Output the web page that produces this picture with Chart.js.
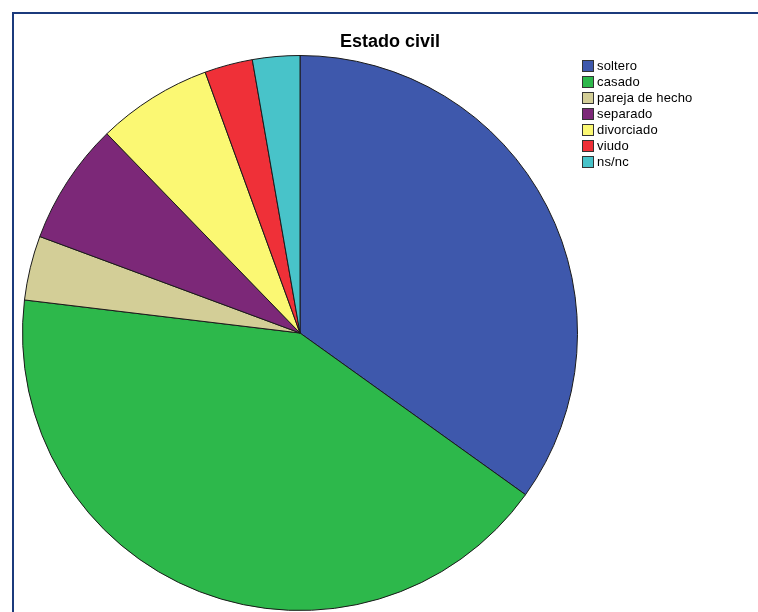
<!DOCTYPE html>
<html>
<head>
<meta charset="utf-8">
<script src="https://cdn.jsdelivr.net/npm/chart.js@4.4.1/dist/chart.umd.min.js"></script>
<style>
    html, body { margin: 0; padding: 0; background: #fff; }
    body { width: 758px; height: 612px; position: relative; overflow: hidden; font-family: "Liberation Sans", Arial, sans-serif; }
    #frame { position: absolute; left: 12px; top: 12px; width: 760px; height: 620px; border-top: 2px solid #1b3a7c; border-left: 2px solid #1b3a7c; }
    #chart-wrap { position: absolute; left: 0; top: 0; width: 758px; height: 612px; }
    #title { position: absolute; left: 290px; width: 200px; top: 31px; text-align: center; font-weight: bold; font-size: 18px; color: #000; }
    #legend { position: absolute; left: 582px; top: 58px; font-size: 13px; letter-spacing: 0.15px; color: #000; }
    #legend div { height: 16px; line-height: 16px; display: flex; align-items: center; }
    #legend span.box { display: inline-block; width: 10px; height: 10px; border: 1px solid #333; margin-right: 3px; }
</style>
</head>
<body>
<div id="frame"></div>
<div id="chart-wrap"><canvas id="pie"></canvas></div>
<div id="title">Estado civil</div>
<div id="legend"></div>
<script>
const categories = ["soltero", "casado", "pareja de hecho", "separado", "divorciado", "viudo", "ns/nc"];
const percentages = [34.9, 42.0, 3.75, 7.1, 6.7, 2.8, 2.75];
const sliceColors = ["#3e58ac", "#2db84b", "#d3ce97", "#7c2878", "#fbf873", "#ef3038", "#48c3c9"];

document.addEventListener("DOMContentLoaded", () => {
    const legend = document.getElementById("legend");
    legend.innerHTML = categories.map((c, i) =>
        `<div><span class="box" style="background:${sliceColors[i]}"></span>${c}</div>`).join("");

    const ctx = document.getElementById("pie").getContext("2d");
    new Chart(ctx, {
        type: "pie",
        data: {
            labels: categories,
            datasets: [{
                data: percentages,
                backgroundColor: sliceColors,
                borderColor: "#1a1a1a",
                borderWidth: 1
            }]
        },
        options: {
            responsive: true,
            maintainAspectRatio: false,
            animation: false,
            layout: { padding: { left: 22, top: 55, right: 180, bottom: 1 } },
            plugins: { legend: { display: false }, tooltip: { enabled: false } }
        }
    });
});
</script>
</body>
</html>
